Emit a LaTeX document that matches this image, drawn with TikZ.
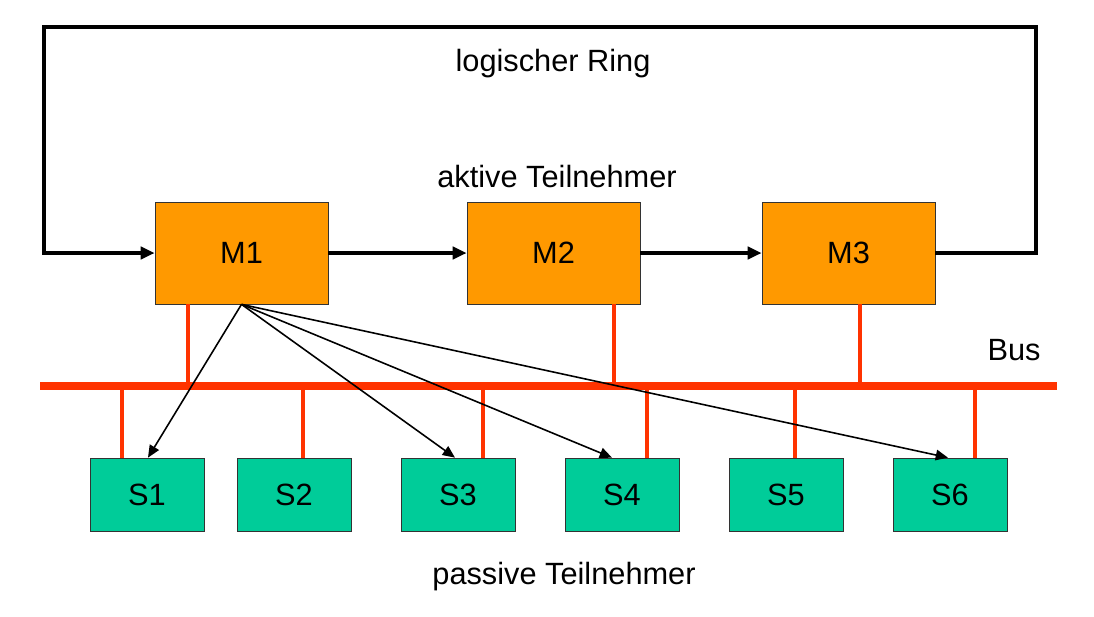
\documentclass[tikz,border=0pt]{standalone}
\usepackage{fontspec}
\setmainfont{Liberation Sans}
\usetikzlibrary{arrows.meta}
\definecolor{morange}{RGB}{255,153,0}
\definecolor{sgreen}{RGB}{0,204,153}
\definecolor{busred}{RGB}{255,51,0}
\begin{document}
\begin{tikzpicture}[x=0.02cm,y=-0.02cm,
	master/.style={draw=black!80,fill=morange,minimum width=3.46cm,minimum height=2.04cm,font=\fontsize{17.5}{21}\selectfont},
	slave/.style={draw=black!80,fill=sgreen,minimum width=2.28cm,minimum height=1.46cm,font=\fontsize{17.5}{21}\selectfont},
	txt/.style={font=\fontsize{17.5}{21}\selectfont},
	ring/.style={line width=2.2pt,-{Triangle[length=8pt,width=7pt]}},
	drop/.style={busred,line width=2.2pt},
	call/.style={line width=0.9pt,-{Triangle[length=7pt,width=6pt]}}]
	\useasboundingbox (0,0) rectangle (1094,616);
	% aktive Teilnehmer
	\node[master] (M1) at (241.5,253){M1};
	\node[master] (M2) at (553.5,253){M2};
	\node[master] (M3) at (848.5,253){M3};
	% passive Teilnehmer
	\node[slave] (S1) at (147,494.5){S1};
	\node[slave] (S2) at (294,494.5){S2};
	\node[slave] (S3) at (458,494.5){S3};
	\node[slave] (S4) at (622,494.5){S4};
	\node[slave] (S5) at (786,494.5){S5};
	\node[slave] (S6) at (950,494.5){S6};
	% texts
	\node[txt] (ring) at (553,64){logischer Ring};
	\node[txt] (akt) at (557,177){aktive Teilnehmer};
	\node[txt] (pas) at (564,577){passive Teilnehmer};
	\node[txt] (bus) at (1014,350){Bus};
	% logischer Ring
	\coordinate (nw) at (44,27);
	\coordinate (ne) at (1036,27);
	\draw[ring] (M1) -- (M2);
	\draw[ring] (M2) -- (M3);
	\draw[ring] (M3.east) -- (M3.east -| ne) -- (ne) -- (nw) -- (nw |- M1.west) -- (M1.west);
	% Bus
	\coordinate (busL) at (40,386);
	\coordinate (busR) at (1057,386);
	\draw[drop] ([xshift=-1.07cm]M1.south) -- ([xshift=-1.07cm]M1.south |- busL);
	\draw[drop] ([xshift=1.21cm]M2.south) -- ([xshift=1.21cm]M2.south |- busL);
	\draw[drop] ([xshift=0.23cm]M3.south) -- ([xshift=0.23cm]M3.south |- busL);
	\foreach \s/\d in {S1/-0.5,S2/0.18,S3/0.5,S4/0.5,S5/0.18,S6/0.5}{
		\draw[drop] ([xshift=\d cm]\s.north) -- ([xshift=\d cm]\s.north |- busL);
	}
	\draw[busred,line width=5pt] (busL) -- (busR);
	% Aufrufe von M1
	\draw[call] (M1.south) -- ([xshift=0.02cm]S1.north);
	\draw[call] (M1.south) -- ([xshift=-0.06cm]S3.north);
	\draw[call] (M1.south) -- ([xshift=-0.2cm]S4.north);
	\draw[call] (M1.south) -- ([xshift=-0.04cm]S6.north);
\end{tikzpicture}
\end{document}
